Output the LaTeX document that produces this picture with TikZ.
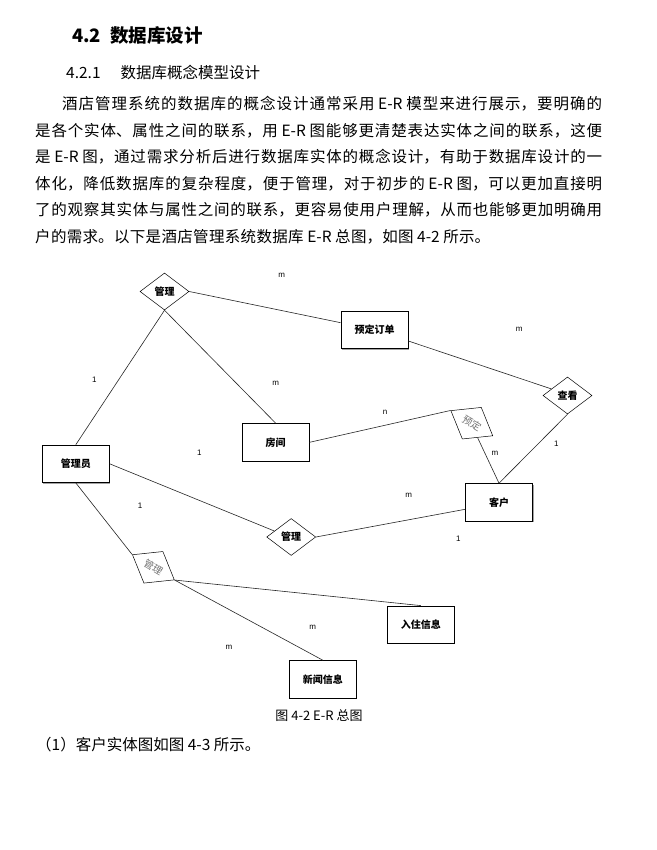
\documentclass[tikz,border=0pt]{standalone}
\usepackage{fontspec}
\setmainfont{Noto Sans CJK SC}
\newfontfamily\latinsans{Liberation Sans}
\usetikzlibrary{shapes.geometric,shadows,calc}
\newcommand{\jline}[2]{\parbox{#1}{\XeTeXlinebreaklocale "zh"\XeTeXlinebreakskip=0pt plus 8pt\parfillskip=0pt\relax\noindent #2}}
\begin{document}
\begin{tikzpicture}[x=1pt,y=-1pt,
 ent/.style={draw=black,line width=0.7pt,fill=white,minimum width=67pt,minimum height=37.5pt,inner sep=0pt,
   font=\fontsize{10}{12}\selectfont\bfseries,
   drop shadow={shadow xshift=1pt,shadow yshift=-1pt,fill=black!45,opacity=0.8}},
 rel/.style={draw=black,line width=0.5pt,fill=white,shape=diamond,minimum width=49pt,minimum height=37pt,inner sep=0pt,
   font=\fontsize{10}{12}\selectfont\bfseries},
 rrel/.style={rel,rotate=-31,font=\fontsize{10}{12}\selectfont,text=black!55},
 conn/.style={draw=black!85,line width=0.6pt},
 card/.style={font=\latinsans\fontsize{8}{9}\selectfont,inner sep=0pt},
 para/.style={anchor=west,inner sep=0pt,font=\fontsize{15.5}{18}\selectfont}
]
\useasboundingbox[fill=white] (0,0) rectangle (656,850);

% headings
\node[anchor=west,inner sep=0pt,font=\fontsize{18.5}{22}\selectfont\bfseries] (h1) at (72,35) {4.2\hspace{9pt}数据库设计};
\node[anchor=west,inner sep=0pt,font=\fontsize{15.5}{18}\selectfont] (h2) at (66,73) {4.2.1\hspace{20pt}数据库概念模型设计};

% paragraph
\node[para] (p1) at (62,104) {\jline{540pt}{酒店管理系统的数据库的概念设计通常采用 E-R 模型来进行展示，要明确的}};
\node[para] (p2) at (35,130.5) {\jline{567pt}{是各个实体、属性之间的联系，用 E-R 图能够更清楚表达实体之间的联系，这便}};
\node[para] (p3) at (35,157) {\jline{567pt}{是 E-R 图，通过需求分析后进行数据库实体的概念设计，有助于数据库设计的一}};
\node[para] (p4) at (35,183.5) {\jline{567pt}{体化，降低数据库的复杂程度，便于管理，对于初步的 E-R 图，可以更加直接明}};
\node[para] (p5) at (35,210) {\jline{567pt}{了的观察其实体与属性之间的联系，更容易使用户理解，从而也能够更加明确用}};
\node[para] (p6) at (35,236.5) {\jline{455pt}{户的需求。以下是酒店管理系统数据库 E-R 总图，如图 4-2 所示。}};

% entities
\node[ent] (yd) at (374.5,330) {预定订单};
\node[ent] (fj) at (275.7,442.3) {房间};
\node[ent] (gly) at (75.8,463.8) {管理员};
\node[ent] (kh) at (499,502.3) {客户};
\node[ent] (rz) at (420.8,624.7) {入住信息};
\node[ent] (xw) at (322.8,679.3) {新闻信息};

% relationships
\node[rel] (g1) at (164.5,291.5) {管理};
\node[rel] (ck) at (567.5,395.5) {查看};
\node[rel] (g2) at (291.2,537) {管理};
\node[rrel] (yd2) at (471.8,423.2) {预定};
\node[rrel] (g3) at (153.4,567.3) {管理};

% connectors
\draw[conn] (g1.east) -- ([yshift=7.3pt]yd.west);
\draw[conn] (g1.south) -- (gly.north);
\draw[conn] (g1.south) -- (fj.north);
\draw[conn] ([yshift=-11pt]yd.east) -- ($(ck.west)!0.35!(ck.north)$);
\draw[conn] (ck.south) -- (kh.north);
\draw[conn] (fj.east) -- (yd2.west);
\draw[conn] (yd2.south east) -- (kh.north);
\draw[conn] (gly.east) -- ($(g2.west)!0.32!(g2.north)$);
\draw[conn] (g2.east) -- ([yshift=-7pt]kh.west);
\draw[conn] (gly.south) -- (g3.west);
\draw[conn] (g3.east) -- (rz.north);
\draw[conn] (g3.east) -- (xw.north);

% cardinalities
\node[card] (c1) at (281.7,275) {m};
\node[card] (c2) at (519.3,329) {m};
\node[card] (c3) at (94.3,380) {1};
\node[card] (c4) at (275.7,383) {m};
\node[card] (c5) at (385,412.5) {n};
\node[card] (c6) at (556.3,443.3) {1};
\node[card] (c7) at (495,453) {m};
\node[card] (c8) at (199.3,452.7) {1};
\node[card] (c9) at (140,506) {1};
\node[card] (c10) at (408.7,495.5) {m};
\node[card] (c11) at (458.3,538.7) {1};
\node[card] (c12) at (312.7,627) {m};
\node[card] (c13) at (229,647) {m};

% caption and following line
\node[inner sep=0pt,font=\fontsize{13}{16}\selectfont] (cap) at (319,716) {图 4-2 E-R 总图};
\node[anchor=west,inner sep=0pt,font=\fontsize{15.5}{18}\selectfont] (l1) at (36,745) {（1）客户实体图如图 4-3 所示。};
\end{tikzpicture}
\end{document}
